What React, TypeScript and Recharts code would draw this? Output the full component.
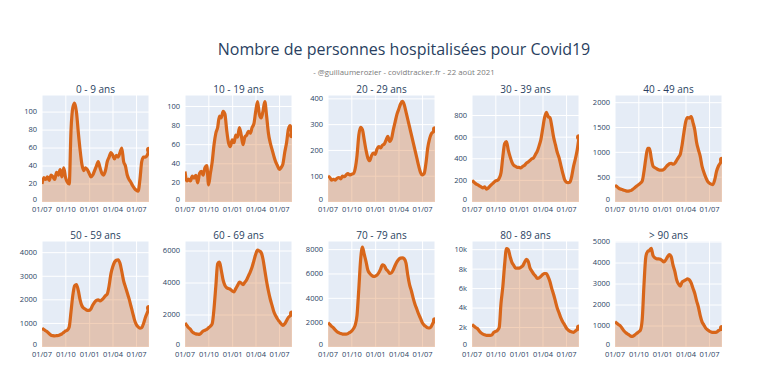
import React from "react";
import { AreaChart, Area, XAxis, YAxis, CartesianGrid } from "recharts";

// weekly points from 01/07/2020 (day 0) to mid-August 2021
const WEEK_STEP = 7;
const LAST_DAY = 413;
const TICK_DAYS = [0, 92, 184, 274, 365];
const TICK_LABELS = ["01/07", "01/10", "01/01", "01/04", "01/07"];

const AGE_0_9 = [
  20, 27, 25, 28, 24, 30, 28, 25, 33, 30,
  36, 28, 38, 27, 22, 20, 80, 105, 110, 100,
  78, 58, 42, 35, 38, 36, 32, 28, 30, 35,
  40, 45, 38, 32, 30, 35, 45, 50, 55, 52,
  48, 52, 50, 55, 60, 45, 40, 30, 25, 22,
  18, 15, 13, 12, 25, 45, 50, 50, 52, 58,
];
const AGE_10_19 = [
  32, 22, 24, 22, 27, 25, 28, 20, 30, 32,
  28, 36, 38, 18, 30, 42, 60, 72, 78, 90,
  88, 95, 92, 75, 62, 58, 65, 62, 70, 68,
  78, 70, 60, 68, 70, 74, 72, 78, 82, 95,
  105, 92, 88, 95, 105, 90, 72, 62, 55, 48,
  42, 38, 34, 36, 40, 52, 62, 76, 80, 70,
];
const AGE_20_29 = [
  100, 95, 85, 88, 85, 92, 95, 90, 100, 98,
  105, 110, 105, 108, 110, 130, 180, 260, 290, 280,
  240, 200, 170, 160, 180, 190, 185, 205, 215, 210,
  220, 225, 240, 255, 235, 245, 280, 310, 340, 360,
  380, 390, 378, 350, 320, 290, 260, 230, 200, 170,
  140, 115, 105, 110, 150, 210, 245, 265, 272, 282,
];
const AGE_30_39 = [
  200, 185, 170, 160, 150, 140, 130, 140, 120, 130,
  150, 165, 180, 195, 200, 220, 270, 420, 540, 560,
  480, 420, 370, 340, 330, 320, 320, 315, 330, 340,
  360, 370, 385, 400, 410, 440, 470, 520, 580, 680,
  780, 830, 790, 780, 700, 600, 530, 460, 410, 340,
  270, 210, 185, 180, 185, 240, 330, 400, 480, 600,
];
const AGE_40_49 = [
  340, 310, 280, 260, 250, 235, 225, 220, 225, 235,
  260, 290, 320, 350, 380, 420, 620, 880, 1080, 1080,
  880, 720, 690, 670, 650, 640, 640, 660, 700, 740,
  770, 780, 760, 780, 840, 900, 960, 1150, 1400, 1620,
  1700, 1690, 1720, 1600, 1450, 1200, 1050, 920, 720, 600,
  500, 420, 380, 360, 350, 450, 620, 720, 780, 850,
];
const AGE_50_59 = [
  800, 740, 690, 640, 560, 500, 480, 470, 480, 490,
  520, 560, 620, 680, 720, 850, 1500, 2200, 2600, 2650,
  2400, 2000, 1750, 1650, 1600, 1550, 1550, 1620, 1780, 1900,
  1980, 2000, 1950, 2000, 2080, 2180, 2250, 2600, 3100, 3400,
  3600, 3680, 3700, 3550, 3200, 2800, 2550, 2300, 2050, 1750,
  1450, 1150, 950, 850, 800, 820, 1000, 1250, 1450, 1650,
];
const AGE_60_69 = [
  1500, 1350, 1200, 1100, 950, 870, 820, 800, 790, 880,
  1000, 1050, 1100, 1200, 1300, 1450, 2400, 3800, 5200, 5300,
  4800, 4200, 3850, 3700, 3650, 3600, 3500, 3450, 3650, 3850,
  4050, 4000, 3900, 4050, 4200, 4450, 4700, 5000, 5400, 5800,
  6050, 6000, 5900, 5500, 4800, 4100, 3500, 3000, 2600, 2200,
  1950, 1750, 1600, 1450, 1350, 1450, 1650, 1850, 1950, 2100,
];
const AGE_70_79 = [
  2000, 1850, 1700, 1580, 1400, 1250, 1170, 1100, 1060, 1050,
  1050, 1100, 1200, 1300, 1500, 1800, 2600, 4800, 7200, 8200,
  7600, 7000, 6300, 6050, 5900, 5800, 5820, 5900, 6100, 6400,
  6750, 6700, 6400, 6250, 6050, 6100, 6350, 6700, 7000, 7200,
  7300, 7320, 7250, 6900, 5900, 5100, 4600, 4000, 3500, 3100,
  2700, 2350, 2000, 1800, 1680, 1580, 1560, 1700, 2000, 2200,
];
const AGE_80_89 = [
  2300, 2150, 2000, 1900, 1650, 1450, 1320, 1250, 1200, 1200,
  1200, 1250, 1500, 1600, 1700, 2000, 4500, 6200, 8500, 10100,
  10000, 9300, 8700, 8400, 8100, 8100, 8100, 8200, 8350, 8700,
  9000, 8800, 8100, 7800, 7500, 7300, 7050, 7100, 7250, 7450,
  7550, 7550, 7200, 6700, 6000, 5400, 4700, 4000, 3500, 3000,
  2600, 2300, 1950, 1750, 1620, 1550, 1500, 1650, 1800, 2000,
];
const AGE_90_PLUS = [
  1200, 1130, 1060, 1000, 880, 760, 680, 620, 560, 510,
  520, 580, 650, 720, 800, 1300, 3000, 4300, 4550, 4600,
  4700, 4350, 4250, 4200, 4200, 4180, 4120, 4050, 4150, 4300,
  4400, 4300, 3900, 3600, 3200, 3000, 2900, 3100, 3150, 3200,
  3250, 3200, 3050, 2800, 2550, 2200, 1900, 1500, 1200, 1050,
  900, 820, 760, 720, 700, 700, 710, 780, 820, 900,
];

const TITLES = [
  "0 - 9 ans", "10 - 19 ans", "20 - 29 ans", "30 - 39 ans", "40 - 49 ans",
  "50 - 59 ans", "60 - 69 ans", "70 - 79 ans", "80 - 89 ans", "> 90 ans",
];
const SERIES = [
  AGE_0_9, AGE_10_19, AGE_20_29, AGE_30_39, AGE_40_49,
  AGE_50_59, AGE_60_69, AGE_70_79, AGE_80_89, AGE_90_PLUS,
];
const Y_MAX = [119, 112, 415, 990, 2155, 4495, 6625, 8710, 10890, 5050];
const Y_TICKS = [
  [0, 20, 40, 60, 80, 100],
  [0, 20, 40, 60, 80, 100],
  [0, 100, 200, 300, 400],
  [0, 200, 400, 600, 800],
  [0, 500, 1000, 1500, 2000],
  [0, 1000, 2000, 3000, 4000],
  [0, 2000, 4000, 6000],
  [0, 2000, 4000, 6000, 8000],
  [0, 2000, 4000, 6000, 8000, 10000],
  [0, 1000, 2000, 3000, 4000, 5000],
];

const LINE = "#d8661a";
const TEXT = "#2a3f5f";
const FONT = "'Open Sans', sans-serif";

const PLOT_LEFTS = [42, 185, 328, 472, 615];
const PLOT_TOPS = [95, 241];
const PLOT_W = 107;
const PLOT_HS = [107, 106];
const Y_AXIS_W = 32;
const TOP_PAD = 6;
const RIGHT_PAD = 14;
const X_AXIS_H = 16;

function YTick(props: any) {
  const { x, y, payload, kFormat } = props;
  const v = payload.value as number;
  const label = kFormat && v > 0 ? `${v / 1000}k` : String(v);
  // lift the zero label a little so it clears the date labels
  const dy = v === 0 ? -2 : 0;
  return (
    <text
      x={x}
      y={y + dy}
      dy="0.32em"
      textAnchor="end"
      fontSize={7.5}
      fill={TEXT}
      fontFamily={FONT}
    >
      {label}
    </text>
  );
}

function Panel({ idx }: { idx: number }) {
  const row = Math.floor(idx / 5);
  const col = idx % 5;
  const values = SERIES[idx];
  const data = values.map((v, i) => ({ day: i * WEEK_STEP, value: v }));
  const plotH = PLOT_HS[row];
  const left = PLOT_LEFTS[col] - Y_AXIS_W;
  const top = PLOT_TOPS[row] - TOP_PAD;
  const kFormat = idx === 8;
  const last = data.length - 1;

  return (
    <div style={{ position: "absolute", left, top }}>
      <div
        style={{
          position: "absolute",
          left: Y_AXIS_W,
          width: PLOT_W,
          top: TOP_PAD - 12,
          textAlign: "center",
          fontSize: 10,
          color: TEXT,
          lineHeight: "12px",
          whiteSpace: "nowrap",
        }}
      >
        {TITLES[idx]}
      </div>
      <AreaChart
        width={Y_AXIS_W + PLOT_W + RIGHT_PAD}
        height={TOP_PAD + plotH + X_AXIS_H}
        data={data}
        margin={{ top: TOP_PAD, right: RIGHT_PAD, bottom: 0, left: 0 }}
      >
        <CartesianGrid fill="#E5ECF6" stroke="#ffffff" strokeWidth={1} />
        <XAxis
          dataKey="day"
          type="number"
          domain={[0, LAST_DAY]}
          ticks={TICK_DAYS}
          interval={0}
          allowDataOverflow
          height={X_AXIS_H}
          tickLine={false}
          axisLine={false}
          tickSize={3}
          tick={{ fontSize: 7.5, fill: TEXT, fontFamily: FONT }}
          tickFormatter={(v: number, i: number) => TICK_LABELS[i] ?? String(v)}
        />
        <YAxis
          type="number"
          domain={[0, Y_MAX[idx]]}
          ticks={Y_TICKS[idx]}
          interval={0}
          allowDataOverflow
          width={Y_AXIS_W}
          tickLine={false}
          axisLine={false}
          tickSize={3}
          tick={<YTick kFormat={kFormat} />}
        />
        <Area
          type="monotone"
          dataKey="value"
          stroke={LINE}
          strokeWidth={3.2}
          fill={LINE}
          fillOpacity={0.3}
          isAnimationActive={false}
          activeDot={false}
          dot={(p: any) =>
            p.index === last ? (
              <circle key={`d${p.index}`} cx={p.cx} cy={p.cy} r={3} fill={LINE} />
            ) : (
              <g key={`d${p.index}`} />
            )
          }
        />
      </AreaChart>
    </div>
  );
}

export default function App() {
  return (
    <div
      style={{
        position: "absolute",
        left: 0,
        top: 0,
        width: 760,
        height: 374,
        background: "#fff",
        fontFamily: FONT,
        overflow: "hidden",
      }}
    >
      <div
        style={{
          position: "absolute",
          left: 404,
          top: 38,
          transform: "translateX(-50%)",
          fontSize: 16,
          lineHeight: "22px",
          color: TEXT,
          whiteSpace: "nowrap",
        }}
      >
        Nombre de personnes hospitalisées pour Covid19
      </div>
      <div
        style={{
          position: "absolute",
          left: 404,
          top: 67,
          transform: "translateX(-50%)",
          fontSize: 7.8,
          lineHeight: "10px",
          color: "#7a7a7a",
          whiteSpace: "nowrap",
        }}
      >
        - @guillaumerozier - covidtracker.fr - 22 août 2021
      </div>
      {TITLES.map((_, i) => (
        <Panel key={i} idx={i} />
      ))}
    </div>
  );
}
